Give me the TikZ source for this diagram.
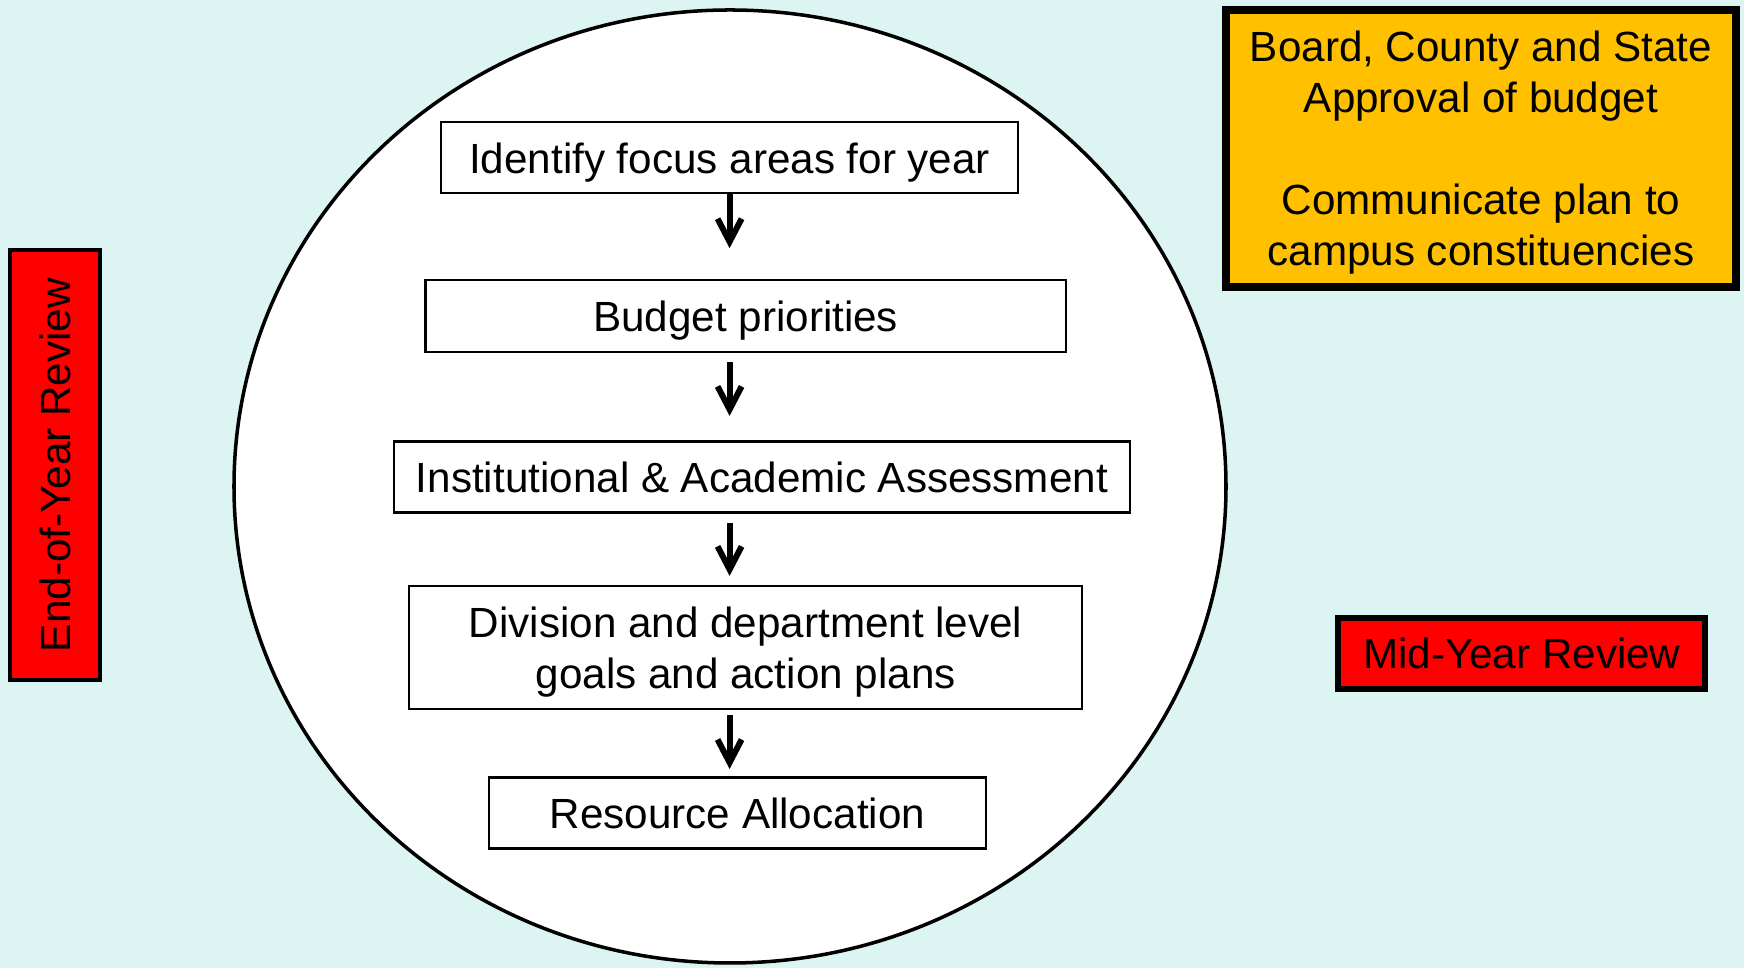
\documentclass[tikz,border=0pt]{standalone}
\usepackage{fontspec}
\setmainfont{Liberation Sans}
\usetikzlibrary{arrows.meta,positioning}
\definecolor{bgcyan}{RGB}{221,245,242}
\definecolor{gold}{RGB}{255,192,0}

\begin{document}
\begin{tikzpicture}[x=0.01cm,y=-0.01cm]
    \tikzstyle{stepbox} = [draw=black, fill=white, line width=0.6pt, inner sep=0pt, text depth=0pt, align=center, font=\fontsize{12}{14.5}\selectfont];
    \tikzstyle{review} = [draw=black, fill=red, inner sep=0pt, text depth=0pt, align=center, font=\fontsize{12}{14.5}\selectfont];
    \tikzstyle{flow} = [-{Straight Barb[length=2.3mm,width=2.4mm]}, line width=1.7pt];

    \fill[bgcyan] (0,0) rectangle (1744,968);
    \useasboundingbox (0,0) rectangle (1744,968);

    \draw[fill=white, line width=1pt] (730,486.5) ellipse [x radius=496, y radius=476.5];

    \node[stepbox, minimum width=5.76cm, minimum height=0.71cm](B1) at (729.6,157.8) {Identify focus areas for year};
    \node[stepbox, minimum width=6.40cm, minimum height=0.72cm](B2) at (745.7,316.3) {Budget priorities};
    \node[stepbox, minimum width=7.36cm, minimum height=0.71cm](B3) at (761.9,477) {Institutional \& Academic Assessment};
    \node[stepbox, minimum width=6.73cm, minimum height=1.23cm](B4) at (745.7,647.5) {Division and department level\\goals and action plans};
    \node[stepbox, minimum width=4.96cm, minimum height=0.71cm](B5) at (737.5,813) {Resource Allocation};

    \node[review, rotate=90, line width=1.1pt, minimum width=4.30cm, minimum height=0.90cm](EOY) at (55.2,465.2) {End-of-Year Review};
    \node[review, line width=1.7pt, minimum width=3.67cm, minimum height=0.71cm](MYR) at (1521.8,653.3) {Mid-Year Review};
    \node[review, fill=gold, line width=2.3pt, minimum width=5.10cm, minimum height=2.77cm](BRD) at (1481,148.5) {Board, County and State\\Approval of budget\\[14.5pt]Communicate plan to\\campus constituencies};

    \draw[flow, shorten >=0.31cm] (B1.south) -- (B1.south |- B2.north);
    \draw[flow, shorten <=0.09cm, shorten >=0.245cm] (B1.south |- B2.south) -- (B1.south |- B3.north);
    \draw[flow, shorten <=0.09cm, shorten >=0.09cm] (B1.south |- B3.south) -- (B1.south |- B4.north);
    \draw[flow, shorten <=0.05cm, shorten >=0.074cm] (B1.south |- B4.south) -- (B1.south |- B5.north);
\end{tikzpicture}
\end{document}
